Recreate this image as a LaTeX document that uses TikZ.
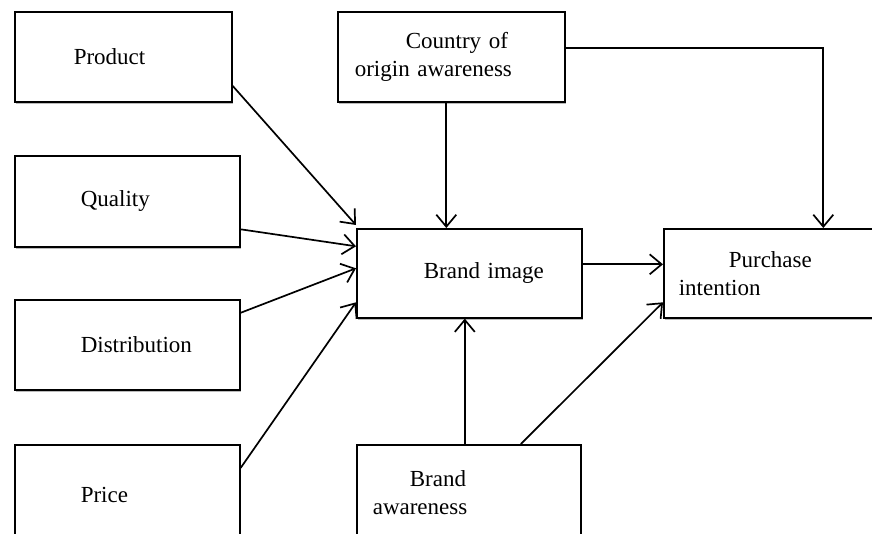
\documentclass[tikz,border=0pt]{standalone}
\usepackage{fontspec}
\setmainfont{Liberation Serif}
\usetikzlibrary{
arrows.meta,
calc,
positioning,
shadows
}
\tikzset{>={Straight Barb[length=12pt,width=20pt]}}
\tikzset{
box/.style={draw, fill=white, line width=1.6pt, inner xsep=0pt, inner ysep=0pt, align=left, anchor=north west,
  drop shadow={shadow xshift=0.8pt, shadow yshift=-1.8pt, fill=black!45, opacity=0.6}},
link/.style={->, line width=1.7pt}
}

\begin{document}
\begin{tikzpicture}[x=1pt, y=-1pt, font=\fontsize{23}{28}\selectfont]
		\fill[white] (0,0) rectangle (872,533);
		\clip (0,0) rectangle (872,533);
		\useasboundingbox (0,0) rectangle (872,533);
		
		\node[box,text width=217pt,minimum height=90pt] (product) at (14,11) {\hspace*{59pt}Product};
		\node[box,text width=225pt,minimum height=91pt] (quality) at (14,155) {\hspace*{66pt}Quality};
		\node[box,text width=225pt,minimum height=90pt] (distribution) at (14,299) {\hspace*{66pt}Distribution};
		\node[box,text width=225pt,minimum height=100pt] (price) at (14,444) {\hspace*{66pt}Price};
		
		\node[box,text width=227pt,minimum height=90pt] (country) at (337,11) {\hspace*{68pt}Country of\\\hspace*{17pt}origin awareness};
		\node[box,text width=225pt,minimum height=89pt] (brand) at (356,228) {\hspace*{67pt}Brand image};
		\node[box,text width=217pt,minimum height=89pt] (purchase) at (663,228) {\hspace*{65pt}Purchase\\\hspace*{15pt}intention};
		\node[box,text width=224pt,minimum height=96pt] (awareness) at (356,444) {\hspace*{53pt}Brand\\\hspace*{16pt}awareness};
		
		\draw[link] ([yshift=-29pt]product.east) -- ([yshift=3pt]brand.north west);
		\draw[link] ([yshift=-28pt]quality.east) -- ([yshift=27pt]brand.west);
		\draw[link] ([yshift=32pt]distribution.east) -- ([yshift=5pt]brand.west);
		\draw[link] ([yshift=-24pt]price.north east) -- ([yshift=-29pt]brand.west);
		
		\draw[link] ([xshift=-5pt]country.south) -- ([xshift=-5pt]country.south |- brand.north);
		\draw[link] ([yshift=9pt]country.east) -| ([xshift=51pt]purchase.north);
		
		\draw[link] ([yshift=9pt]brand.east) -- ([yshift=9pt]brand.east -| purchase.west);
		
		\draw[link] ([xshift=-4pt]awareness.north) -- ([xshift=-4pt]awareness.north |- brand.south);
		\draw[link] ([xshift=52pt]awareness.north) -- ([yshift=-29pt]purchase.west);
	\end{tikzpicture}
\end{document}
